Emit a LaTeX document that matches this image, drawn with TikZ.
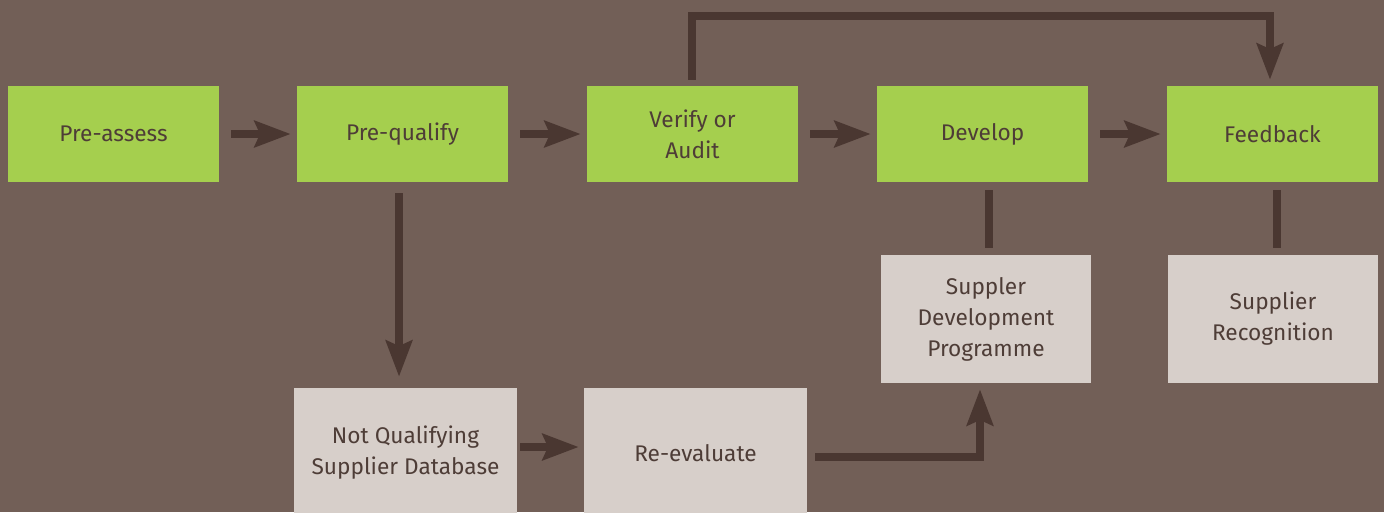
\documentclass[tikz,border=0pt]{standalone}
\usepackage{fontspec}
\setmainfont{Fira Sans}
\usetikzlibrary{arrows.meta}
\definecolor{bgc}{RGB}{114,95,87}
\definecolor{grn}{RGB}{165,207,78}
\definecolor{lgt}{RGB}{215,207,202}
\definecolor{dk}{RGB}{74,55,49}
\definecolor{txt}{RGB}{78,61,55}
\begin{document}
\begin{tikzpicture}[x=0.75pt,y=-0.75pt,
  box/.style={rectangle, inner sep=0pt, align=center, text=txt, font=\fontsize{17}{23.25}\selectfont},
  gbox/.style={box, fill=grn, minimum width=158.25pt, minimum height=72pt},
  wbox/.style={box, fill=lgt, minimum width=167.25pt, minimum height=97.5pt},
  sbox/.style={box, fill=lgt, minimum width=157.5pt, minimum height=96pt},
  conn/.style={draw=dk, line width=6pt, line join=miter},
  arr/.style={conn, -{Stealth[length=27pt,width=19.5pt,inset=4pt]}}
]
\fill[bgc] (0,0) rectangle (1384,512);
\useasboundingbox (0,0) rectangle (1384,512);

\node[gbox] (pa) at (113.5,134) {Pre-assess};
\node[gbox] (pq) at (402.5,134) {Pre-qualify};
\node[gbox] (va) at (692.5,134) {Verify or\\Audit};
\node[gbox] (dv) at (982.5,134) {Develop};
\node[gbox] (fb) at (1272.5,134) {Feedback};
\node[wbox] (nq) at (405.5,453) {Not Qualifying\\Supplier Database};
\node[wbox] (re) at (695.5,453) {Re-evaluate};
\node[sbox] (sdp) at (986,319) {Suppler\\Development\\Programme};
\node[sbox] (sr) at (1273,319) {Supplier\\Recognition};

\draw[arr, shorten <=9pt, shorten >=4.5pt] (pa) -- (pq);
\draw[arr, shorten <=9pt, shorten >=4.5pt] (pq) -- (va);
\draw[arr, shorten <=9pt, shorten >=4.5pt] (va) -- (dv);
\draw[arr, shorten <=9pt, shorten >=4.5pt] (dv) -- (fb);

\draw[arr, shorten <=8.25pt, shorten >=8.25pt] ([xshift=-2.6pt]pq.south) -- ([xshift=-2.6pt]pq.south |- nq.north);
\draw[arr, shorten <=2.25pt, shorten >=3.75pt] ([yshift=4.5pt]nq.east) -- ([yshift=4.5pt]re.west);
\draw[arr, shorten <=6pt, shorten >=4.5pt] ([yshift=-3pt]re.east) -| ([xshift=-4.5pt]sdp.south);

\draw[conn, shorten <=6pt, shorten >=5.25pt] ([xshift=4.875pt]dv.south) -- ([xshift=4.875pt]dv.south |- sdp.north);
\draw[conn, shorten <=6pt, shorten >=5.25pt] ([xshift=3.375pt]fb.south) -- ([xshift=3.375pt]fb.south |- sr.north);

\draw[arr, shorten <=4.5pt, shorten >=4.5pt] ([xshift=-0.75pt]va.north) -- ++(0,-69.5) -| ([xshift=-1.9pt]fb.north);
\end{tikzpicture}
\end{document}
